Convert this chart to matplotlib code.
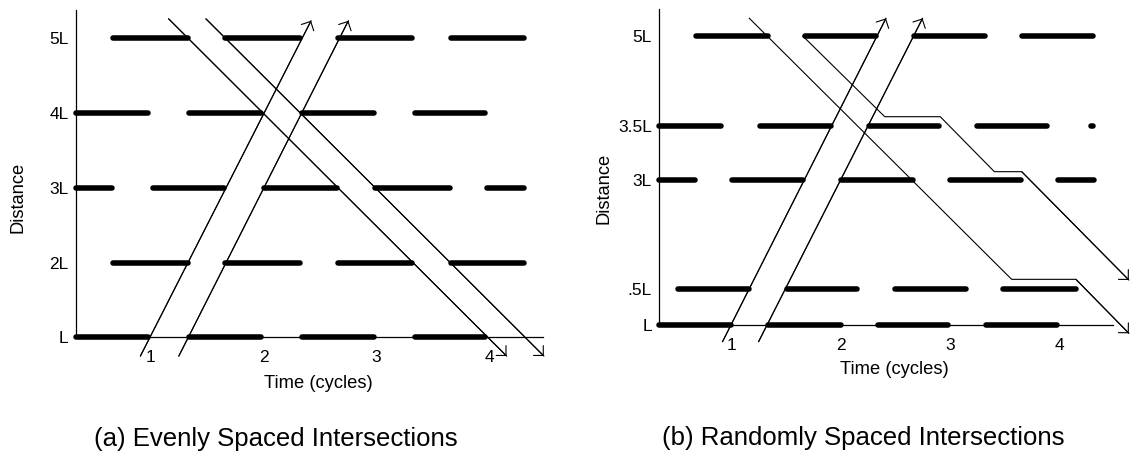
import matplotlib
matplotlib.use('Agg')
import matplotlib.pyplot as plt

plt.rcParams['font.family'] = ['Liberation Sans', 'DejaVu Sans']

# (a) evenly spaced intersections
a_rows = [1, 2, 3, 4, 5]
a_row_labels = ['L', '2L', '3L', '4L', '5L']
a_red_start = [[0.34, 1.34, 2.34, 3.34],
               [0.67, 1.66, 2.66, 3.66],
               [0.34, 1.02, 2.00, 2.99, 3.98],
               [0.34, 1.34, 2.34, 3.34],
               [0.67, 1.66, 2.66, 3.66]]
a_red_end = [[0.98, 1.98, 2.98, 3.96],
             [1.33, 2.32, 3.31, 4.30],
             [0.66, 1.65, 2.65, 3.65, 4.30],
             [0.98, 1.98, 2.98, 3.96],
             [1.33, 2.32, 3.31, 4.30]]
a_cars_t = [[0.91, 2.42], [1.25, 2.75], [1.16, 4.15], [1.49, 4.48]]
a_cars_d = [[0.75, 5.235], [0.75, 5.235], [5.26, 0.75], [5.26, 0.75]]

# (b) randomly spaced intersections
b_rows = [1, 1.5, 3, 3.75, 5]
b_row_labels = ['L', '.5L', '3L', '3.5L', '5L']
b_red_start = [[0.34, 1.34, 2.34, 3.33],
               [0.51, 1.51, 2.50, 3.49],
               [0.34, 1.01, 2.00, 3.00, 3.99],
               [0.34, 1.26, 2.26, 3.25, 4.29],
               [0.68, 1.67, 2.67, 3.66]]
b_red_end = [[1.00, 2.00, 2.98, 3.98],
             [1.16, 2.15, 3.15, 4.15],
             [0.67, 1.66, 2.66, 3.65, 4.32],
             [0.91, 1.91, 2.90, 3.89, 4.31],
             [1.34, 2.32, 3.32, 4.31]]
b_cars_t = [[0.92, 2.415], [1.25, 2.75],
            [1.165, 3.565, 4.153, 4.637],
            [1.654, 2.404, 2.912, 3.407, 3.657, 4.637]]
b_cars_d = [[0.77, 5.245], [0.77, 5.245],
            [5.245, 1.632, 1.632, 0.885],
            [5.0, 3.883, 3.883, 3.122, 3.122, 1.623]]

cycle_ticks = [1, 2, 3, 4]

W, H = 1130, 454
fig = plt.figure(figsize=(W / 100, H / 100), dpi=100)


def px_to_axes(ax, px, py):
    return ax.transAxes.inverted().transform((px, H - py))


def draw(ax, rows, labels, starts, ends, cars_t, cars_d, x_end, y_top):
    for y, s, e in zip(rows, starts, ends):
        for a, b in zip(s, e):
            ax.plot([a, b], [y, y], color='k', lw=4, solid_capstyle='round')
    for t, d in zip(cars_t, cars_d):
        ax.plot(t, d, color='k', lw=0.8)
        ax.annotate('', xy=(t[-1], d[-1]), xytext=(t[-2], d[-2]),
                    arrowprops=dict(arrowstyle='->,head_length=0.5,head_width=0.5',
                                    lw=0.8, color='k', shrinkA=0, shrinkB=0))
    for side in ['top', 'right']:
        ax.spines[side].set_visible(False)
    ax.spines['left'].set_position(('data', 0.337))
    ax.spines['left'].set_bounds(1, y_top)
    ax.spines['bottom'].set_position(('data', 1))
    ax.spines['bottom'].set_bounds(0.337, x_end)
    for sp in ['left', 'bottom']:
        ax.spines[sp].set_linewidth(0.9)
    ax.set_yticks(rows)
    ax.set_yticklabels(labels)
    ax.set_xticks(cycle_ticks)
    ax.set_xticklabels([str(c) for c in cycle_ticks])
    ax.tick_params(length=0, labelsize=12.5)
    ax.tick_params(axis='y', pad=5)
    ax.tick_params(axis='x', pad=9.2)
    ax.patch.set_alpha(0)


# left panel
ax1 = fig.add_axes([37.6 / W, 0.1747, 4.62 * 113 / W, 0.815])
ax1.set_xlim(0, 4.62)
ax1.set_ylim(0.5, 5.45)
draw(ax1, a_rows, a_row_labels, a_red_start, a_red_end, a_cars_t, a_cars_d, 4.47, 5.375)
ax1.set_xlabel('Time (cycles)', fontsize=13.2)
ax1.set_ylabel('Distance', fontsize=13.2)
ax1.xaxis.label.set_va('center')
ax1.yaxis.label.set_va('center')
ax1.xaxis.set_label_coords(*px_to_axes(ax1, 318, 384))
ax1.yaxis.set_label_coords(*px_to_axes(ax1, 18, 197))

# right panel
ax2 = fig.add_axes([622 / W, 0.2046, 4.66 * 109.3 / W, 0.7877])
ax2.set_xlim(0, 4.66)
ax2.set_ylim(0.5, 5.45)
draw(ax2, b_rows, b_row_labels, b_red_start, b_red_end, b_cars_t, b_cars_d, 4.49, 5.38)
ax2.set_xlabel('Time (cycles)', fontsize=13.2)
ax2.set_ylabel('Distance', fontsize=13.2)
ax2.xaxis.label.set_va('center')
ax2.yaxis.label.set_va('center')
ax2.xaxis.set_label_coords(*px_to_axes(ax2, 894, 370))
ax2.yaxis.set_label_coords(*px_to_axes(ax2, 604, 188))

fig.text(276 / W, 1 - 439 / H, '(a) Evenly Spaced Intersections',
         ha='center', va='center', fontsize=18.5)
fig.text(863 / W, 1 - 438 / H, '(b) Randomly Spaced Intersections',
         ha='center', va='center', fontsize=18.5)

fig.savefig('out.png', dpi=100)
